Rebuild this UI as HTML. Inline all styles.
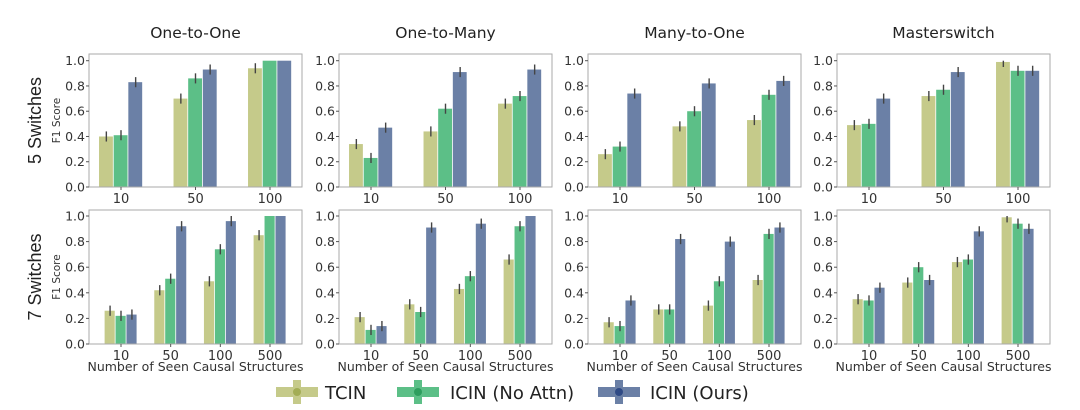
<!DOCTYPE html>
<html><head><meta charset="utf-8">
<style>
html,body{margin:0;padding:0;background:#fff;}
svg{display:block;font-family:"DejaVu Sans","Liberation Sans",sans-serif;}
</style></head>
<body>
<svg id="chart" width="1080" height="410" viewBox="0 0 1080 410" xmlns="http://www.w3.org/2000/svg"></svg>
<script>
const panelTitles = ["One-to-One","One-to-Many","Many-to-One","Masterswitch"];
const rowLabels = ["5 Switches","7 Switches"];
const seriesNames = ["TCIN","ICIN (No Attn)","ICIN (Ours)"];
const categoriesTop = ["10","50","100"];
const categoriesBottom = ["10","50","100","500"];
const yTicks = [0,0.2,0.4,0.6,0.8,1.0];
// top row: [panel][series][category]
const top1 = [[0.40,0.70,0.94],[0.41,0.86,1.00],[0.83,0.93,1.00]];
const top2 = [[0.34,0.44,0.66],[0.23,0.62,0.72],[0.47,0.91,0.93]];
const top3 = [[0.26,0.48,0.53],[0.32,0.60,0.73],[0.74,0.82,0.84]];
const top4 = [[0.49,0.72,0.99],[0.50,0.77,0.92],[0.70,0.91,0.92]];
const bot1 = [[0.26,0.42,0.49,0.85],[0.22,0.51,0.74,1.00],[0.23,0.92,0.96,1.00]];
const bot2 = [[0.21,0.31,0.43,0.66],[0.11,0.25,0.53,0.92],[0.14,0.91,0.94,1.00]];
const bot3 = [[0.17,0.27,0.30,0.50],[0.14,0.27,0.49,0.86],[0.34,0.82,0.80,0.91]];
const bot4 = [[0.35,0.48,0.64,0.99],[0.34,0.60,0.66,0.94],[0.44,0.50,0.88,0.90]];
const errTop = 0.04;

const colors = ["#c5ca8a","#5cbf87","#6b80a6"];
const NS="http://www.w3.org/2000/svg";
const svg=document.getElementById('chart');
function mk(tag,attrs,parent){const e=document.createElementNS(NS,tag);for(const k in attrs)e.setAttribute(k,attrs[k]);(parent||svg).appendChild(e);return e;}
function txt(s,attrs,parent){const e=mk('text',attrs,parent);e.textContent=s;return e;}

const lefts=[89,339,588,837], W=213;
const rows=[{top:54,zero:187,one:60.7,cats:categoriesTop,data:[top1,top2,top3,top4]},
            {top:210,zero:344,one:216,cats:categoriesBottom,data:[bot1,bot2,bot3,bot4]}];

panelTitles.forEach((t,i)=>{
  const e=txt(t,{x:lefts[i]+W/2,y:38,'text-anchor':'middle','font-size':15.5,fill:'#222'});
  
  
});
rowLabels.forEach((t,r)=>{
  const cy=(rows[r].top+rows[r].zero)/2;
  const e=txt(t,{x:0,y:0,transform:`translate(41,${cy}) rotate(-90)`,'text-anchor':'middle','font-size':18,fill:'#222','font-family':'Liberation Sans, sans-serif'});
  
  
  const f=txt('F1 Score',{x:0,y:0,transform:`translate(60,${cy}) rotate(-90)`,'text-anchor':'middle','font-size':10.5,fill:'#333'});
  
  
});

rows.forEach((row,r)=>{
  const yS=v=>row.zero-(row.zero-row.one)*v;
  row.data.forEach((panel,p)=>{
    const L=lefts[p];
    const g=mk('g',{});
    
    
    const n=row.cats.length, margin=32;
    const spacing=(W-2*margin)/(n-1);
    const gw=spacing*(n===3?0.59:0.66), bw=gw/3;
    const xC=i=>L+margin+i*spacing;
    panel.forEach((vals,s)=>{
      vals.forEach((v,c)=>{
        const x=xC(c)-gw/2+s*bw;
        const b=mk('rect',{x:x,y:yS(v),width:bw-0.8,height:row.zero-yS(v),fill:colors[s]},g);
        
        
        const lo=Math.max(0,v-errTop), hi=Math.min(1,v+errTop);
        if(v<0.995){
          const el=mk('line',{x1:x+bw/2,x2:x+bw/2,y1:yS(lo),y2:yS(hi),stroke:'#444','stroke-width':1.4},g);
          
          
        }
      });
    });
    const box=mk('rect',{x:L,y:row.top,width:W,height:row.zero-row.top,fill:'none',stroke:'#aaa','stroke-width':1},g);
    
    
    yTicks.forEach(t=>{
      mk('line',{x1:L-3,x2:L,y1:yS(t),y2:yS(t),stroke:'#555'},g);
      const e=txt(t.toFixed(1),{x:L-4,y:yS(t)+4.5,'text-anchor':'end','font-size':12.5,fill:'#333'},g);
      
      
    });
    row.cats.forEach((c,i)=>{
      mk('line',{x1:xC(i),x2:xC(i),y1:row.zero,y2:row.zero+3,stroke:'#555'},g);
      const e=txt(c,{x:xC(i),y:row.zero+16,'text-anchor':'middle','font-size':13,fill:'#333'},g);
      
      
    });
    if(r===1){
      const e=txt('Number of Seen Causal Structures',{x:L+W/2,y:371,'text-anchor':'middle','font-size':12.5,fill:'#333'},g);
      
      
    }
  });
});

const legX=[276,397,598], legT=[325,450,650];
seriesNames.forEach((s,i)=>{
  const g=mk('g',{});
  
  
  mk('rect',{x:legX[i],y:387,width:42,height:10,fill:colors[i]},g);
  mk('rect',{x:legX[i]+17,y:380,width:8,height:24,fill:colors[i]},g);
  mk('circle',{cx:legX[i]+21,cy:392,r:4,fill:['#a3ad55','#2e9e5e','#2f4a85'][i]},g);
  txt(s,{x:legT[i],y:399,'font-size':18,fill:'#222'},g);
});
</script>
</body></html>
